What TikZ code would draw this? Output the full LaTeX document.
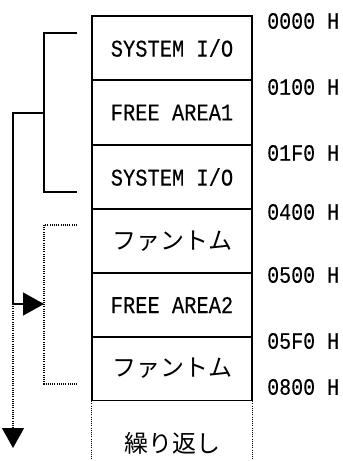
\documentclass[tikz,border=0pt]{standalone}
\usepackage{fontspec}
\newfontfamily\jpfont{Noto Sans CJK JP}
\newfontfamily\monofont[FakeStretch=0.85,FakeBold=0.25]{Liberation Mono}
\usetikzlibrary{arrows.meta}
\tikzset{
  cell/.style={draw, line width=1.4pt, minimum width=160pt, minimum height=64pt, inner sep=0pt, anchor=center},
  lat/.style={font=\monofont\fontsize{24}{24}\selectfont},
  jp/.style={font=\jpfont\fontsize{24}{24}\selectfont},
  addr/.style={anchor=west, inner sep=0pt, font=\monofont\fontsize{23.5}{24}\selectfont},
  brk/.style={line width=1.4pt},
  dotline/.style={line width=1.3pt, dash pattern=on 1pt off 1.2pt},
  tip/.style={-{Triangle[length=21pt,width=23pt]}},
}
\begin{document}
\begin{tikzpicture}[x=1pt,y=-1pt]
\useasboundingbox (0,0) rectangle (343,461);
% memory cells
\node[cell,lat] (c1) at (172,48) {SYSTEM I/O};
\node[cell,lat] (c2) at (172,112.5) {FREE AREA1};
\node[cell,lat] (c3) at (172,177) {SYSTEM I/O};
\node[cell,jp]  (c4) at (172,241) {ファントム};
\node[cell,lat] (c5) at (172,305) {FREE AREA2};
\node[cell,jp]  (c6) at (172,368.5) {ファントム};
\node[jp] (c7) at (172,443) {繰り返し};
\draw[dotline] (c6.south west) -- ++(0,61);
\draw[dotline] (c6.south east) -- ++(0,61);
% addresses
\node[addr] (a0) at (267,21) {0000 H};
\node[addr] (a1) at (267,87) {0100 H};
\node[addr] (a2) at (267,153) {01F0 H};
\node[addr] (a3) at (267,212) {0400 H};
\node[addr] (a4) at (267,275) {0500 H};
\node[addr] (a5) at (267,341) {05F0 H};
\node[addr] (a6) at (267,387) {0800 H};
% brackets
\coordinate (s1) at (77,33);
\coordinate (s2) at (44,33);
\coordinate (s3) at (44,192);
\coordinate (s4) at (77,192);
\coordinate (m) at (44,113);
\coordinate (o1) at (13,113);
\coordinate (o2) at (13,304);
\coordinate (o3) at (44,304);
\coordinate (o4) at (13,448);
\coordinate (d1) at (77,225);
\coordinate (d2) at (44,225);
\coordinate (d3) at (44,384);
\coordinate (d4) at (77,384);
\draw[brk] (s1) -- (s2) -- (s3) -- (s4);
\draw[dotline] (d1) -- (d2) -- (d3) -- (d4);
\draw[brk,tip] (m) -- (o1) -- (o2) -- (o3);
\draw[dotline,-{Triangle[length=20pt,width=22pt]}] (o2) -- (o4);
\end{tikzpicture}
\end{document}
